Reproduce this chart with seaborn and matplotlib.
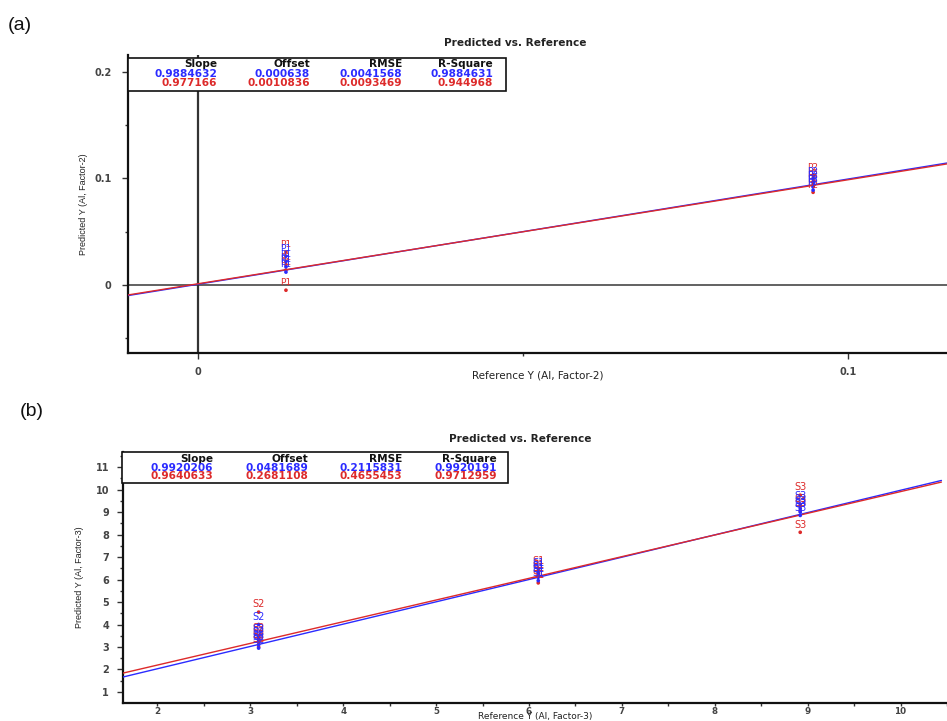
import numpy as np
import pandas as pd
import matplotlib
matplotlib.use("Agg")
import matplotlib.pyplot as plt
import seaborn as sns
from matplotlib.patches import Rectangle

W, H = 947, 721
BLUE = "#2b2bff"
RED = "#dd2a2a"

# ---------------- data: panel (a) ----------------
a_title = "Predicted vs. Reference"
a_xlabel = "Reference Y (Al, Factor-2)"
a_ylabel = "Predicted Y (Al, Factor-2)"
a_p1_ref = 0.0135
a_p2_ref = 0.0946
a_p1_cal = [0.027, 0.022, 0.017, 0.012]
a_p1_val = [0.031, 0.019, 0.014, -0.005]
a_p2_cal = [0.100, 0.096, 0.092, 0.089]
a_p2_val = [0.103, 0.097, 0.093, 0.087]
a_stats_header = ["Slope", "Offset", "RMSE", "R-Square"]
a_cal_stats = ["0.9884632", "0.000638", "0.0041568", "0.9884631"]
a_val_stats = ["0.977166", "0.0010836", "0.0093469", "0.944968"]
a_xticks = [0, 0.1]
a_xtick_labels = ["0", "0.1"]
a_yticks = [0, 0.1, 0.2]
a_ytick_labels = ["0", "0.1", "0.2"]

# ---------------- data: panel (b) ----------------
b_title = "Predicted vs. Reference"
b_xlabel = "Reference Y (Al, Factor-3)"
b_ylabel = "Predicted Y (Al, Factor-3)"
b_s2_ref = 3.09
b_s1_ref = 6.1
b_s3_ref = 8.92
b_s2_cal = [4.0, 3.45, 3.3, 3.1, 2.95]
b_s2_val = [4.55, 3.5, 3.35, 3.2, 3.0]
b_s1_cal = [6.4, 6.25, 6.1, 5.95]
b_s1_val = [6.5, 6.3, 6.15, 5.85]
b_s3_cal = [9.35, 9.15, 9.0, 8.85]
b_s3_val = [9.75, 9.25, 9.05, 8.1]
b_stats_header = ["Slope", "Offset", "RMSE", "R-Square"]
b_cal_stats = ["0.9920206", "0.0481689", "0.2115831", "0.9920191"]
b_val_stats = ["0.9640633", "0.2681108", "0.4655453", "0.9712959"]
b_xticks = [2, 3, 4, 5, 6, 7, 8, 9, 10]
b_yticks = [1, 2, 3, 4, 5, 6, 7, 8, 9, 10, 11]


def make_df(groups):
    rows = []
    for label, ref, vals, kind in groups:
        for v in vals:
            rows.append({"sample": label, "ref": ref, "pred": v, "set": kind})
    return pd.DataFrame(rows)


df_a = make_df([
    ("P1", a_p1_ref, a_p1_val, "val"), ("P1", a_p1_ref, a_p1_cal, "cal"),
    ("P2", a_p2_ref, a_p2_val, "val"), ("P2", a_p2_ref, a_p2_cal, "cal"),
])
df_b = make_df([
    ("S2", b_s2_ref, b_s2_val, "val"), ("S2", b_s2_ref, b_s2_cal, "cal"),
    ("S1", b_s1_ref, b_s1_val, "val"), ("S1", b_s1_ref, b_s1_cal, "cal"),
    ("S3", b_s3_ref, b_s3_val, "val"), ("S3", b_s3_ref, b_s3_cal, "cal"),
])

sns.set_theme(style="white")
plt.rcParams["font.family"] = ["DejaVu Sans"]

fig = plt.figure(figsize=(W / 100, H / 100), dpi=100)


def px_axes(l, t, r, b):
    return fig.add_axes([l / W, 1 - b / H, (r - l) / W, (b - t) / H])


def fx(x):
    return x / W


def fy(y):
    return 1 - y / H


def style_axes(ax, labelsize=7):
    for s in ["top", "right"]:
        ax.spines[s].set_visible(False)
    for s in ["left", "bottom"]:
        ax.spines[s].set_color("#111111")
        ax.spines[s].set_linewidth(1.6)
    ax.tick_params(which="major", direction="out", length=4, width=1, color="#333",
                   labelsize=labelsize, labelcolor="#444", left=True, bottom=True)
    ax.tick_params(which="minor", direction="out", length=2.5, width=1, color="#333",
                   left=True, bottom=True)
    for lab in ax.get_xticklabels() + ax.get_yticklabels():
        lab.set_fontweight("bold")
    ax.grid(False)


def draw_points(ax, df, fs, off):
    sns.scatterplot(data=df, x="ref", y="pred", hue="set",
                    palette={"cal": BLUE, "val": RED}, s=7, linewidth=0,
                    legend=False, ax=ax, zorder=4)
    for _, r in df.iterrows():
        c = BLUE if r["set"] == "cal" else RED
        ax.annotate(r["sample"], (r["ref"], r["pred"]), xytext=(0, off),
                    textcoords="offset points", ha="center", va="bottom",
                    color=c, fontsize=fs, zorder=5)


def draw_lines(ax, cal, val, xlim):
    xs = np.array(xlim)
    for stats, c in [(cal, BLUE), (val, RED)]:
        slope, offset = float(stats[0]), float(stats[1])
        sns.lineplot(x=xs, y=slope * xs + offset, color=c, linewidth=1, ax=ax, zorder=3)


def draw_box(l, t, r, b, header, cal, val, col_right, rows_y):
    rect = Rectangle((fx(l), fy(b)), fx(r) - fx(l), fy(t) - fy(b), transform=fig.transFigure,
                     facecolor="white", edgecolor="#111", linewidth=1.2, zorder=10)
    fig.patches.append(rect)
    for texts, yy, c in [(header, rows_y[0], "#111"), (cal, rows_y[1], BLUE), (val, rows_y[2], RED)]:
        for txt, xr in zip(texts, col_right):
            fig.text(fx(xr), fy(yy), txt, ha="right", va="center", color=c,
                     fontsize=7.6, fontweight="bold", zorder=11)


# ---------------- panel (a) ----------------
ax1 = px_axes(128, 55, 947, 353)
a_xlim = (-0.0108, 0.1152)
a_ylim = (-0.064, 0.216)
ax1.axhline(0, color="#555", lw=1.3, zorder=2)
ax1.axvline(0, color="#333", lw=1.6, zorder=2)
draw_lines(ax1, a_cal_stats, a_val_stats, a_xlim)
draw_points(ax1, df_a, 6.5, 2)
ax1.set_xlim(*a_xlim)
ax1.set_ylim(*a_ylim)
ax1.set_xticks(a_xticks)
ax1.set_xticklabels(a_xtick_labels)
ax1.set_yticks(a_yticks)
ax1.set_yticklabels(a_ytick_labels)
ax1.set_xticks([0.05], minor=True)
ax1.set_yticks([-0.05, 0.05, 0.15], minor=True)
style_axes(ax1)
ax1.tick_params(axis="x", pad=6)
ax1.tick_params(axis="y", pad=8)
ax1.set_xlabel(a_xlabel, fontsize=7.5, color="#222")
ax1.set_ylabel(a_ylabel, fontsize=6.5, color="#222", family=["Liberation Sans Narrow", "Liberation Sans"])
ax1.xaxis.set_label_coords(0.5, -0.06)
ax1.yaxis.set_label_coords(-0.049, 0.5)
fig.text(fx(515), fy(43), a_title, ha="center", va="center", fontsize=7.6, fontweight="bold", color="#222")
draw_box(128, 58, 506, 91, a_stats_header, a_cal_stats, a_val_stats,
         [217, 310, 402, 493], [64, 74, 83])
fig.text(fx(8), fy(26), "(a)", ha="left", va="center", fontsize=14,
         family=["Liberation Sans", "DejaVu Sans"], color="#111")

# ---------------- panel (b) ----------------
ax2 = px_axes(123, 452, 947, 703)
b_xlim = (1.63, 10.44)
b_ylim = (0.51, 11.67)
draw_lines(ax2, b_cal_stats, b_val_stats, b_xlim)
draw_points(ax2, df_b, 7, 2)
ax2.set_xlim(*b_xlim)
ax2.set_ylim(*b_ylim)
ax2.set_xticks(b_xticks)
ax2.set_xticklabels([str(v) for v in b_xticks])
ax2.set_yticks(b_yticks)
ax2.set_yticklabels([str(v) for v in b_yticks])
ax2.set_xticks(np.arange(2.0, 10.6, 0.5), minor=True)
ax2.set_yticks(np.arange(1.0, 11.6, 0.5), minor=True)
style_axes(ax2)
ax2.tick_params(axis="x", which="both", pad=0.5, length=2.5, labelsize=6.3)
ax2.tick_params(axis="y", pad=6)
ax2.set_xlabel(b_xlabel, fontsize=6.5, color="#222")
ax2.set_ylabel(b_ylabel, fontsize=6.5, color="#222", family=["Liberation Sans Narrow", "Liberation Sans"])
ax2.xaxis.set_label_coords(0.5, -0.035)
ax2.yaxis.set_label_coords(-0.047, 0.5)
fig.text(fx(520), fy(439), b_title, ha="center", va="center", fontsize=7.6, fontweight="bold", color="#222")
draw_box(122, 452, 508, 483, b_stats_header, b_cal_stats, b_val_stats,
         [213, 308, 402, 497], [459, 468, 476])
fig.text(fx(20), fy(411), "(b)", ha="left", va="center", fontsize=14,
         family=["Liberation Sans", "DejaVu Sans"], color="#111")

fig.savefig("out.png", dpi=100, facecolor="white")
